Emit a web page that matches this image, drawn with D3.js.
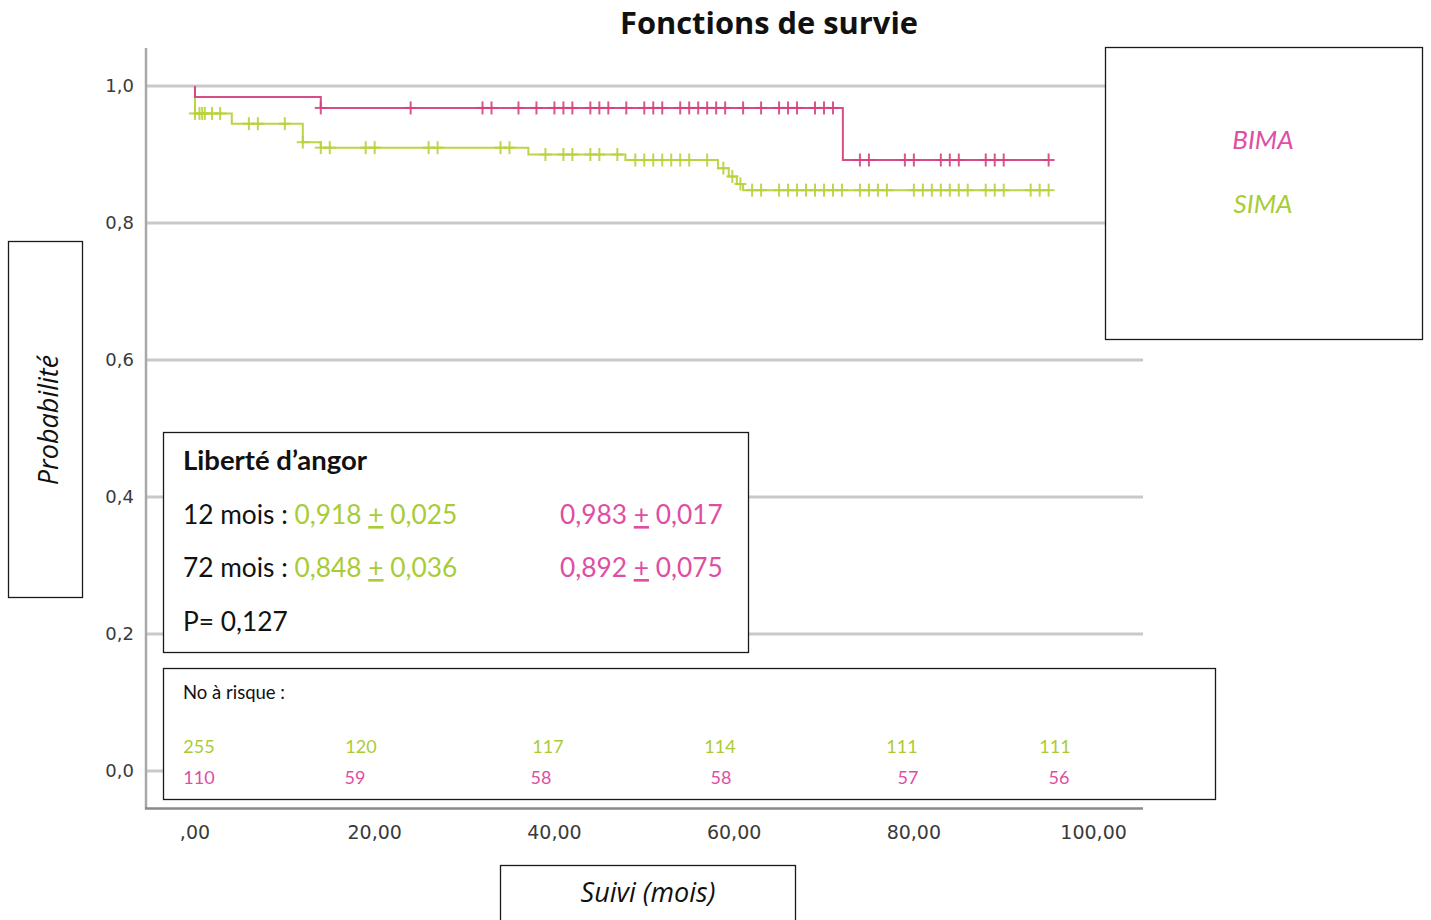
<!DOCTYPE html>
<html><head><meta charset="utf-8">
<script src="https://cdn.jsdelivr.net/npm/d3@7/dist/d3.min.js"></script>
<style>
html,body{margin:0;padding:0;background:#fff;}
svg{display:block;}
</style></head>
<body>
<svg id="chart" width="1431" height="920"></svg>
<script>
// ---------- DATA ----------
const title = "Fonctions de survie";
const groups = ["BIMA", "SIMA"];
const xTicks = [0, 20, 40, 60, 80, 100];
const xTickLabels = [",00", "20,00", "40,00", "60,00", "80,00", "100,00"];
const yTicks = [0, 0.2, 0.4, 0.6, 0.8, 1.0];
const yTickLabels = ["0,0", "0,2", "0,4", "0,6", "0,8", "1,0"];

// step curves (time in months, survival probability)
const bimaTimes = [0, 0, 14, 72.1, 95];
const bimaSurv  = [1.0, 0.984, 0.968, 0.892, 0.892];
const simaTimes = [0, 0, 4.1, 12, 14, 37.1, 47.9, 58.2, 59.4, 60.3, 61.0, 95];
const simaSurv  = [1.0, 0.96, 0.945, 0.918, 0.910, 0.900, 0.892, 0.880, 0.868, 0.857, 0.848, 0.848];

// censored observations (months)
const bimaCensor = [14,24,32,33,36,38,40,41,42,44,45,46,48,50,51,52,54,55,56,57,58,59,61,63,65,66,67,69,70,71,74,75,79,80,83,84,85,88,89,90,95];
const simaCensor = [0,0.5,0.8,1.1,1.9,2.8,6,7,10,12,14,15,19,20,26,27,34,35,39,41,42,44,45,47,49,50,51,52,53,54,55,57,58.8,59.8,60.7,62,63,65,66,67,68,69,70,71,72,74,75,76,77,80,81,82,83,84,85,86,88,89,90,93,94,95];

// summary box
const summaryTitle = "Liberté d’angor";
const summaryRows = [
  {label: "12 mois : ", sima: ["0,918 ", "+", " 0,025"], bima: ["0,983 ", "+", " 0,017"]},
  {label: "72 mois : ", sima: ["0,848 ", "+", " 0,036"], bima: ["0,892 ", "+", " 0,075"]}
];
const pValueText = "P= 0,127";

// numbers at risk
const riskTitle = "No à risque :";
const riskSima = [255, 120, 117, 114, 111, 111];
const riskBima = [110, 59, 58, 58, 57, 56];

const yAxisTitle = "Probabilité";
const xAxisTitle = "Suivi (mois)";

// ---------- STYLE ----------
const PINK_LINE = "#d4447f", GREEN_LINE = "#b8d23c";
const PINK_TEXT = "#de4ea3", GREEN_TEXT = "#a9cc36";
const TXT_FONT = "Lato, 'Open Sans', sans-serif";
const TITLE_FONT = "'Open Sans', Lato, sans-serif";
const AX_FONT = "'DejaVu Sans', sans-serif";

const svg = d3.select("#chart");

const x = d3.scaleLinear().domain([-5.45, 105.5]).range([146, 1143]);
const y = d3.scaleLinear().domain([-0.054, 1.0555]).range([808, 48]);

// gridlines
svg.append("g").selectAll("line").data(yTicks).join("line")
  .attr("x1", x.range()[0]).attr("x2", x.range()[1])
  .attr("y1", d => y(d)).attr("y2", d => y(d))
  .attr("stroke", "#c9c9c9").attr("stroke-width", 3);

// axes lines
svg.append("line").attr("x1", 146).attr("x2", 146).attr("y1", 48).attr("y2", 809)
  .attr("stroke", "#a8a8a8").attr("stroke-width", 2.5);
svg.append("line").attr("x1", 145).attr("x2", 1143).attr("y1", 808.5).attr("y2", 808.5)
  .attr("stroke", "#8a8a8a").attr("stroke-width", 2.5);

// y tick labels
svg.append("g").selectAll("text").data(yTicks).join("text")
  .attr("x", 134).attr("y", d => y(d)).attr("dy", "0.36em")
  .attr("text-anchor", "end").attr("font-family", AX_FONT).attr("font-size", 18)
  .attr("fill", "#3a3a3a").text((d, i) => yTickLabels[i]);

// x tick labels
svg.append("g").selectAll("text").data(xTicks).join("text")
  .attr("x", d => x(d)).attr("y", 839)
  .attr("text-anchor", "middle").attr("font-family", AX_FONT).attr("font-size", 19)
  .attr("fill", "#3a3a3a").text((d, i) => xTickLabels[i]);

// curves
function drawCurve(times, surv, censor, color) {
  const pts = times.map((t, i) => ({t, s: surv[i]}));
  const line = d3.line().x(d => x(d.t)).y(d => y(d.s)).curve(d3.curveStepAfter);
  svg.append("path").datum(pts).attr("d", line)
    .attr("fill", "none").attr("stroke", color).attr("stroke-width", 2).attr("stroke-opacity", 0.95);
  const survAt = t => { let s = surv[0]; times.forEach((tt, i) => { if (tt <= t) s = surv[i]; }); return s; };
  const g = svg.append("g").attr("stroke", color).attr("stroke-width", 2).attr("stroke-opacity", 0.9);
  censor.forEach(t => {
    const cx = x(t), cy = y(survAt(t));
    g.append("line").attr("x1", cx).attr("x2", cx).attr("y1", cy - 6.5).attr("y2", cy + 6.5);
    g.append("line").attr("x1", cx - 6).attr("x2", cx + 6).attr("y1", cy).attr("y2", cy);
  });
}
drawCurve(simaTimes, simaSurv, simaCensor, GREEN_LINE);
drawCurve(bimaTimes, bimaSurv, bimaCensor, PINK_LINE);

// title
svg.append("text").attr("x", 769).attr("y", 34).attr("text-anchor", "middle")
  .attr("font-family", "'Open Sans', sans-serif").attr("font-weight", "bold").attr("font-size", 30)
  .attr("textLength", 298).attr("lengthAdjust", "spacingAndGlyphs")
  .attr("fill", "#111").text(title);

// boxes helper
function box(x0, y0, w, h) {
  return svg.append("rect").attr("x", x0).attr("y", y0).attr("width", w).attr("height", h)
    .attr("fill", "#fff").attr("stroke", "#1a1a1a").attr("stroke-width", 1.3);
}

// legend box
box(1105.5, 47.5, 317, 292);
const legColors = {BIMA: PINK_TEXT, SIMA: GREEN_TEXT};
groups.forEach((gname, i) => {
  svg.append("text").attr("x", 1263).attr("y", 149 + i * 64).attr("text-anchor", "middle")
    .attr("font-family", TXT_FONT).attr("font-style", "italic").attr("font-size", 26)
    .attr("fill", legColors[gname]).text(gname);
});

// y axis title box
box(8.5, 241.5, 74, 356);
svg.append("text").attr("transform", "translate(58,420) rotate(-90)").attr("text-anchor", "middle")
  .attr("font-family", TITLE_FONT).attr("font-style", "italic").attr("font-size", 27)
  .attr("fill", "#111").text(yAxisTitle);

// x axis title box
box(500.5, 865.5, 295, 70);
svg.append("text").attr("x", 648).attr("y", 902).attr("text-anchor", "middle")
  .attr("font-family", TITLE_FONT).attr("font-style", "italic").attr("font-size", 27)
  .attr("fill", "#111").text(xAxisTitle);

// summary box
box(163.5, 432.5, 585, 220);
svg.append("text").attr("x", 183).attr("y", 470)
  .attr("font-family", TXT_FONT).attr("font-weight", "bold").attr("font-size", 27.5)
  .attr("fill", "#111").text(summaryTitle);
summaryRows.forEach((r, i) => {
  const yy = 524 + i * 53;
  const t = svg.append("text").attr("x", 183).attr("y", yy)
    .attr("font-family", TXT_FONT).attr("font-size", 26.3).attr("fill", "#111");
  t.append("tspan").text(r.label);
  r.sima.forEach((s, k) => {
    const sp = t.append("tspan").attr("fill", GREEN_TEXT).text(s);
    if (k === 1) sp.attr("text-decoration", "underline");
  });
  const t2 = svg.append("text").attr("x", 560).attr("y", yy)
    .attr("font-family", TXT_FONT).attr("font-size", 26.3).attr("fill", PINK_TEXT);
  r.bima.forEach((s, k) => {
    const sp = t2.append("tspan").text(s);
    if (k === 1) sp.attr("text-decoration", "underline");
  });
});
svg.append("text").attr("x", 183).attr("y", 631)
  .attr("font-family", TXT_FONT).attr("font-size", 26.3).attr("fill", "#111").text(pValueText);

// risk table box
box(163.5, 668.5, 1052, 131);
svg.append("text").attr("x", 183).attr("y", 699)
  .attr("font-family", TXT_FONT).attr("font-size", 18.5).attr("fill", "#111").text(riskTitle);
const riskColsSima = [199, 361, 548, 720, 902, 1055];
const riskColsBima = [199, 355, 541, 721, 908, 1059];
svg.append("g").selectAll("text").data(riskSima).join("text")
  .attr("x", (d, i) => riskColsSima[i]).attr("y", 753).attr("text-anchor", "middle")
  .attr("font-family", TXT_FONT).attr("font-size", 18).attr("fill", GREEN_TEXT).text(d => d);
svg.append("g").selectAll("text").data(riskBima).join("text")
  .attr("x", (d, i) => riskColsBima[i]).attr("y", 784).attr("text-anchor", "middle")
  .attr("font-family", TXT_FONT).attr("font-size", 18).attr("fill", PINK_TEXT).text(d => d);
</script>
</body></html>
